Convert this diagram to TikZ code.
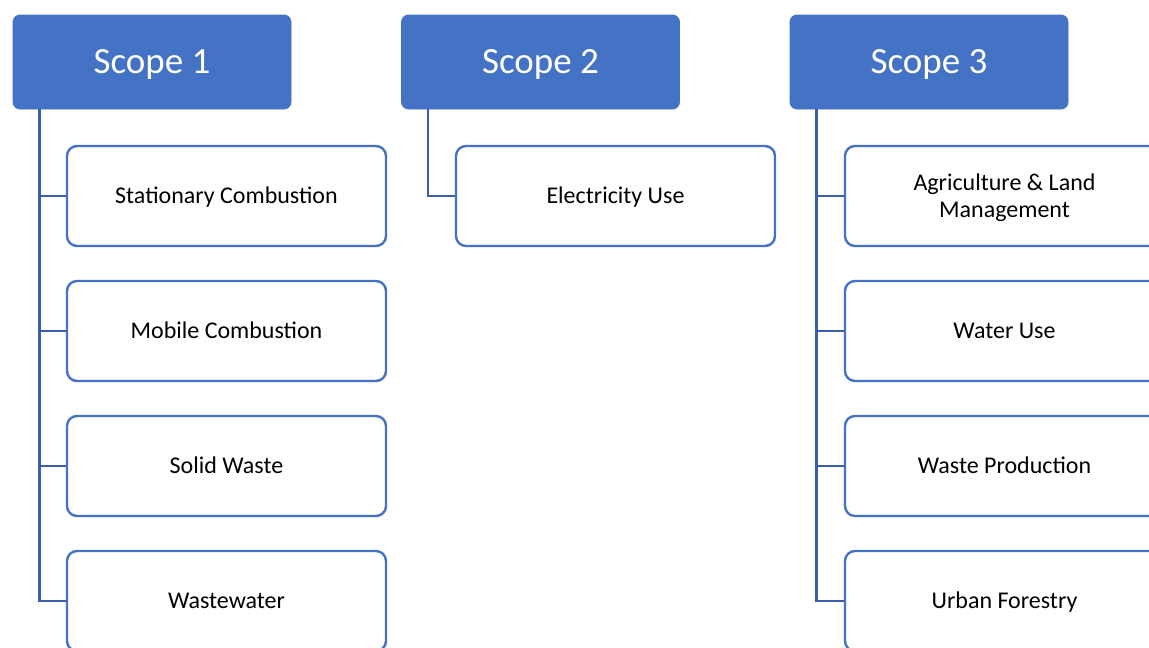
\documentclass[tikz,border=0pt]{standalone}
\usepackage{fontspec}
\setmainfont{Carlito}
\definecolor{hdr}{HTML}{4472C4}
\definecolor{conn}{HTML}{3C5EA8}
\begin{document}
\begin{tikzpicture}[x=1pt,y=-1pt,
  header/.style={rectangle,rounded corners=7pt,fill=hdr,draw=hdr,line width=0.8pt,
    minimum width=278pt,minimum height=94pt,text=white,font=\fontsize{37}{40}\selectfont,
    inner sep=0pt,text height=27pt,text depth=4pt},
  child/.style={rectangle,rounded corners=10pt,draw=hdr,line width=2.4pt,fill=white,
    minimum width=319pt,minimum height=100pt,font=\fontsize{24}{27}\selectfont,
    align=center,inner sep=0pt,text=black,text height=18pt,text depth=3pt},
  conn/.style={draw=conn,line width=2.6pt}]
\clip (0,0) rectangle (1149,648);
\fill[white] (0,0) rectangle (1149,648);
% headers
\node[header] (h1) at (152,62) {Scope 1};
\node[header] (h2) at (540.5,62) {Scope 2};
\node[header] (h3) at (929,62) {Scope 3};
% scope 1 children
\node[child] (a1) at (226.5,196) {Stationary Combustion};
\node[child] (a2) at (226.5,331) {Mobile Combustion};
\node[child] (a3) at (226.5,466) {Solid Waste};
\node[child] (a4) at (226.5,601) {Wastewater};
% scope 2 child
\node[child] (b1) at (615.5,196) {Electricity Use};
% scope 3 children
\node[child,text height=46pt,text depth=3pt] (c1) at (1004.5,196) {Agriculture \& Land\\Management};
\node[child] (c2) at (1004.5,331) {Water Use};
\node[child] (c3) at (1004.5,466) {Waste Production};
\node[child] (c4) at (1004.5,601) {Urban Forestry};
% connectors
\coordinate (s1) at ([xshift=27pt]h1.south west);
\coordinate (s2) at ([xshift=27pt]h2.south west);
\coordinate (s3) at ([xshift=27pt]h3.south west);
\draw[conn] (s1) |- (a4.west);
\draw[conn] (s1 |- a1.west) -- (a1.west);
\draw[conn] (s1 |- a2.west) -- (a2.west);
\draw[conn] (s1 |- a3.west) -- (a3.west);
\draw[conn] (s2) |- (b1.west);
\draw[conn] (s3) |- (c4.west);
\draw[conn] (s3 |- c1.west) -- (c1.west);
\draw[conn] (s3 |- c2.west) -- (c2.west);
\draw[conn] (s3 |- c3.west) -- (c3.west);
\end{tikzpicture}
\end{document}
